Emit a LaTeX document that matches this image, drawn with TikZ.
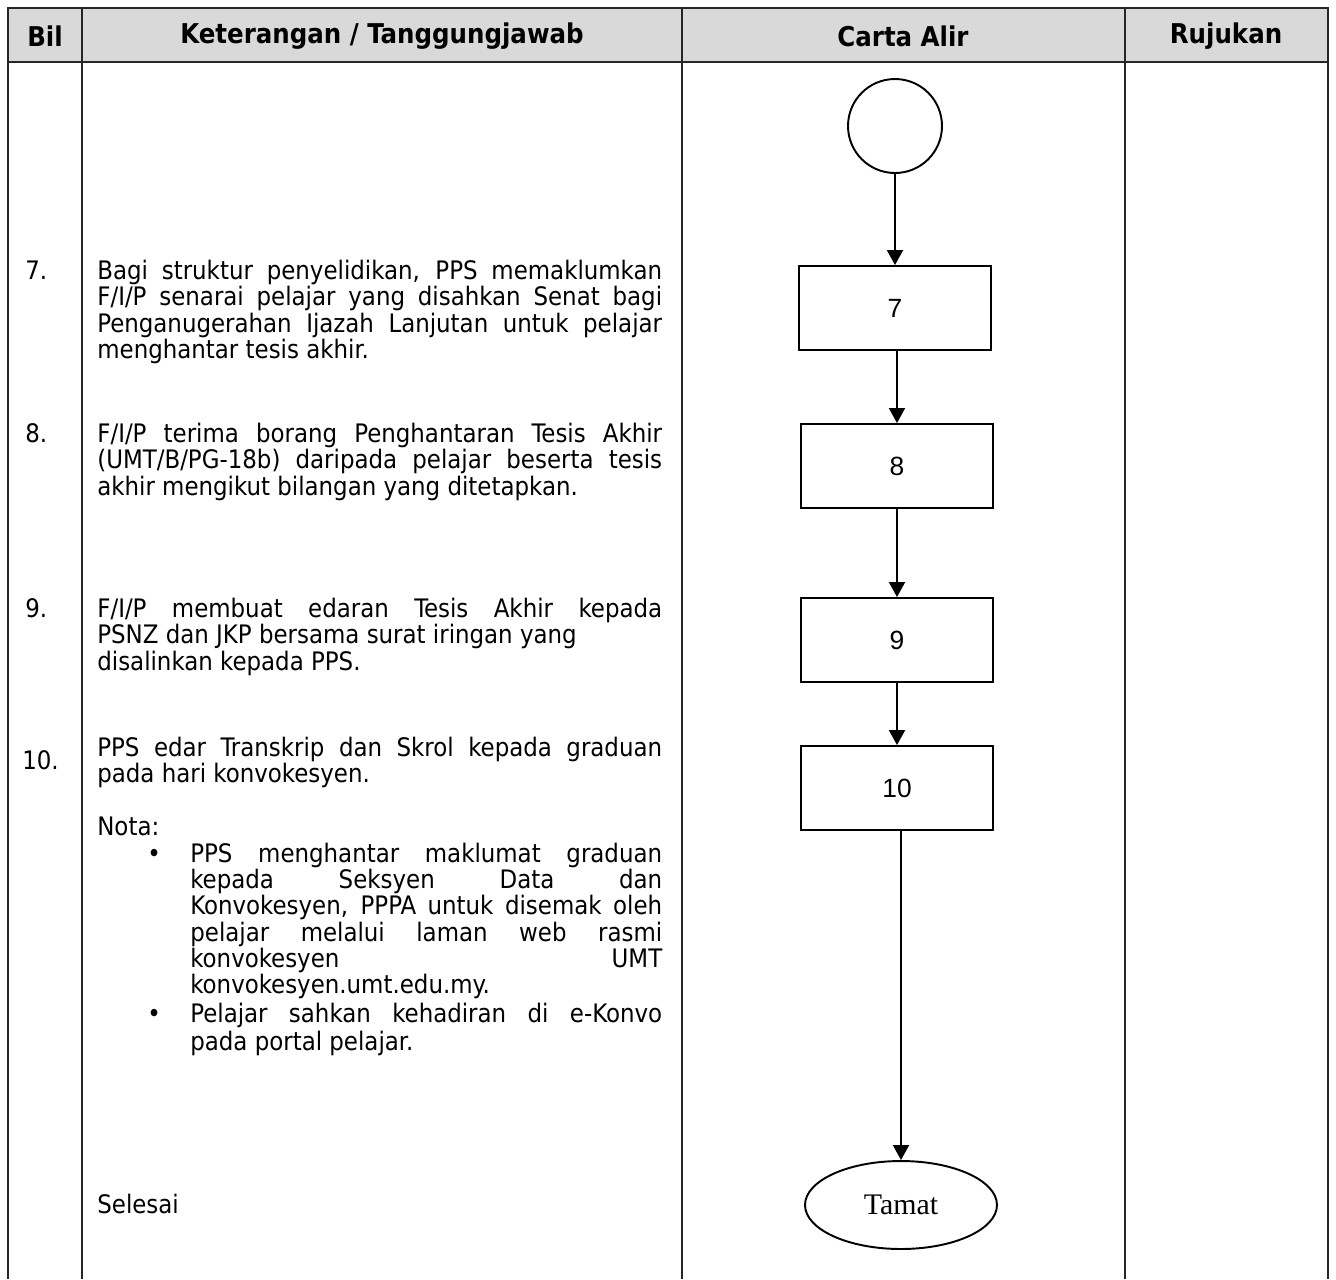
\documentclass[tikz,border=0pt]{standalone}
\usepackage{fontspec}
\setmainfont{DejaVu Sans Condensed}
\newfontfamily\boxfont{Liberation Sans}
\newfontfamily\endfont{Liberation Serif}
\usetikzlibrary{arrows.meta,shapes.geometric}
\hyphenpenalty=10000
\exhyphenpenalty=10000

\tikzset{
  rule/.style={draw=black!85,line width=0.85pt},
  head/.style={font=\bfseries\fontsize{15.5}{18}\selectfont,inner sep=0pt},
  para/.style={anchor=base west,inner sep=0pt,align=justify,text width=11.3cm,font=\fontsize{14.5}{15.1}\selectfont},
  subpara/.style={para,text width=9.44cm,font=\fontsize{14.5}{15}\selectfont},
  num/.style={anchor=base west,inner sep=0pt,font=\fontsize{14.5}{15}\selectfont},
  stepbox/.style={draw,line width=1.1pt,minimum width=3.84cm,minimum height=1.68cm,inner sep=0pt,font=\boxfont\fontsize{15}{18}\selectfont},
  flow/.style={line width=1.1pt,-{Triangle[width=0.32cm,length=0.3cm]}},
}

\begin{document}
\begin{tikzpicture}[x=0.02cm,y=-0.02cm]
\useasboundingbox (0,0) rectangle (1336,1279);

% table
\fill[black!15] (8,8) rectangle (1328,62);
\draw[rule] (8,8) rectangle (1328,62);
\foreach \x in {8,82,682,1125,1328}
  \draw[rule] (\x,8) -- (\x,1279);

\node[head] (hbil) at (45,36) {Bil};
\node[head] (hket) at (382,36) {Keterangan / Tanggungjawab};
\node[head] (hcarta) at (903,36) {Carta Alir};
\node[head] (hruj) at (1226,36) {Rujukan};

% keterangan
\node[num] (n7) at (25,279) {7.};
\node[para] (t7) at (97,279) {Bagi struktur penyelidikan, PPS memaklumkan\linebreak F/I/P senarai pelajar yang disahkan Senat bagi\linebreak Penganugerahan Ijazah Lanjutan untuk pelajar\linebreak menghantar tesis akhir.};

\node[num] (n8) at (25,442) {8.};
\node[para] (t8) at (97,442) {F/I/P terima borang Penghantaran Tesis Akhir\linebreak (UMT/B/PG-18b) daripada pelajar beserta tesis\linebreak akhir mengikut bilangan yang ditetapkan.};

\node[num] (n9) at (25,617) {9.};
\node[para] (t9) at (97,617) {F/I/P membuat edaran Tesis Akhir kepada\linebreak PSNZ dan JKP bersama surat iringan yang\\ disalinkan kepada PPS.};

\node[num] (n10) at (22,769) {10.};
\node[para] (t10) at (97,756) {PPS edar Transkrip dan Skrol kepada graduan\linebreak pada hari konvokesyen.};

\node[num] (nota) at (97,835) {Nota:};
\node[num] (d1) at (147,862) {\textbullet};
\node[subpara] (s1) at (190,862) {PPS menghantar maklumat graduan\linebreak kepada Seksyen Data dan\linebreak Konvokesyen, PPPA untuk disemak oleh\linebreak pelajar melalui laman web rasmi\linebreak konvokesyen UMT\linebreak konvokesyen.umt.edu.my.};
\node[num] (d2) at (147,1022) {\textbullet};
\node[subpara,font=\fontsize{14.5}{16}\selectfont] (s2) at (190,1022) {Pelajar sahkan kehadiran di e-Konvo\linebreak pada portal pelajar.};

\node[num] (selesai) at (97,1213) {Selesai};

% carta alir
\node[draw,circle,line width=1.1pt,minimum size=1.88cm,inner sep=0pt] (mula) at (895,126) {};
\node[stepbox] (b7) at (895,308) {7};
\node[stepbox] (b8) at (897,466) {8};
\node[stepbox] (b9) at (897,640) {9};
\node[stepbox] (b10) at (897,788) {10};
\node[draw,ellipse,line width=1.1pt,minimum width=3.84cm,minimum height=1.76cm,inner sep=0pt,font=\endfont\fontsize{17}{20}\selectfont] (tamat) at (901,1205) {Tamat};

\draw[flow] (mula) -- (b7);
\draw[flow] (b7.south -| b8) -- (b8);
\draw[flow] (b8) -- (b9);
\draw[flow] (b9.south) -- (b10.north);
\draw[flow] (b10.south -| tamat) -- (tamat);
\end{tikzpicture}
\end{document}
